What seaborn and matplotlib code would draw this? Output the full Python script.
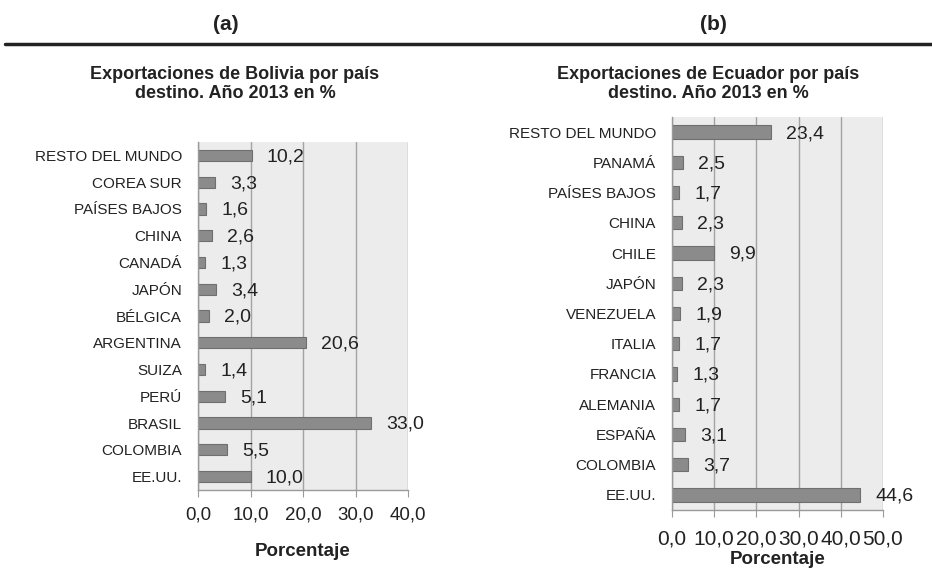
import seaborn as sns
import matplotlib.pyplot as plt
from matplotlib.ticker import FuncFormatter

# Bolivia (top to bottom as drawn)
paises_bol = ["RESTO DEL MUNDO", "COREA SUR", "PAÍSES BAJOS", "CHINA", "CANADÁ", "JAPÓN",
              "BÉLGICA", "ARGENTINA", "SUIZA", "PERÚ", "BRASIL", "COLOMBIA", "EE.UU."]
valores_bol = [10.2, 3.3, 1.6, 2.6, 1.3, 3.4, 2.0, 20.6, 1.4, 5.1, 33.0, 5.5, 10.0]
ticks_bol = [0, 10, 20, 30, 40]

# Ecuador
paises_ecu = ["RESTO DEL MUNDO", "PANAMÁ", "PAÍSES BAJOS", "CHINA", "CHILE", "JAPÓN",
              "VENEZUELA", "ITALIA", "FRANCIA", "ALEMANIA", "ESPAÑA", "COLOMBIA", "EE.UU."]
valores_ecu = [23.4, 2.5, 1.7, 2.3, 9.9, 2.3, 1.9, 1.7, 1.3, 1.7, 3.1, 3.7, 44.6]
ticks_ecu = [0, 10, 20, 30, 40, 50]

sns.set_style("white")
plt.rcParams['font.family'] = ['Liberation Sans', 'DejaVu Sans']

fig = plt.figure(figsize=(9.32, 5.69), dpi=100)

coma = FuncFormatter(lambda x, pos: f"{x:.1f}".replace(".", ","))


def panel(rect, paises, valores, ticks, tick_size, tick_pad, bar_w, xlabel_pad):
    ax = fig.add_axes(rect)
    ax.set_facecolor("#ececec")
    sns.barplot(x=valores, y=paises, orient="h", color="#8b8b8b", saturation=1,
                width=bar_w, edgecolor="#6f6f6f", linewidth=0.8, ax=ax)
    ax.set_xlim(ticks[0], ticks[-1])
    ax.set_xticks(ticks)
    ax.xaxis.set_major_formatter(coma)
    ax.grid(axis="x", color="#a3a3a3", linewidth=1)
    ax.set_axisbelow(True)
    for s in ["top", "right"]:
        ax.spines[s].set_visible(False)
    for s in ["left", "bottom"]:
        ax.spines[s].set_color("#9a9a9a")
        ax.spines[s].set_linewidth(1)
    ax.tick_params(axis="x", bottom=True, length=5, color="#9a9a9a",
                   labelsize=tick_size, labelcolor="#222222", pad=tick_pad)
    ax.tick_params(axis="y", left=False, labelsize=11, labelcolor="#222222", pad=8)
    ax.set_ylabel("")
    ax.set_xlabel("Porcentaje", fontsize=13.5, fontweight="bold", color="#222222",
                  labelpad=xlabel_pad)
    for i, v in enumerate(valores):
        ax.annotate(f"{v:.1f}".replace(".", ","), xy=(v, i), xytext=(11, -1),
                    textcoords="offset points", va="center", ha="left",
                    fontsize=14, color="#222222", annotation_clip=False)
    return ax


panel([198 / 932, 1 - 490 / 569, 210 / 932, 348 / 569],
      paises_bol, valores_bol, ticks_bol, 13.5, 7, 0.42, 14)
panel([672 / 932, 1 - 510 / 569, 211 / 932, 393 / 569],
      paises_ecu, valores_ecu, ticks_ecu, 15, 9, 0.44, 2)

fig.text(235 / 932, 1 - 84 / 569, "Exportaciones de Bolivia por país\ndestino. Año 2013 en %",
         ha="center", va="center", fontsize=13, fontweight="bold", color="#222222",
         linespacing=1.12)
fig.text(708 / 932, 1 - 84 / 569, "Exportaciones de Ecuador por país\ndestino. Año 2013 en %",
         ha="center", va="center", fontsize=13, fontweight="bold", color="#222222",
         linespacing=1.12)

narrow = ['Liberation Sans Narrow', 'Liberation Sans', 'DejaVu Sans']
fig.text(226 / 932, 1 - 25 / 569, "(a)", ha="center", va="center", fontsize=15,
         fontweight="bold", family=narrow, color="#222222")
fig.text(713 / 932, 1 - 25 / 569, "(b)", ha="center", va="center", fontsize=15,
         fontweight="bold", family=narrow, color="#222222")
fig.add_artist(plt.Line2D([5 / 932, 1], [1 - 44 / 569] * 2, color="#222222", linewidth=2.5))

fig.savefig("out.png", dpi=100)
